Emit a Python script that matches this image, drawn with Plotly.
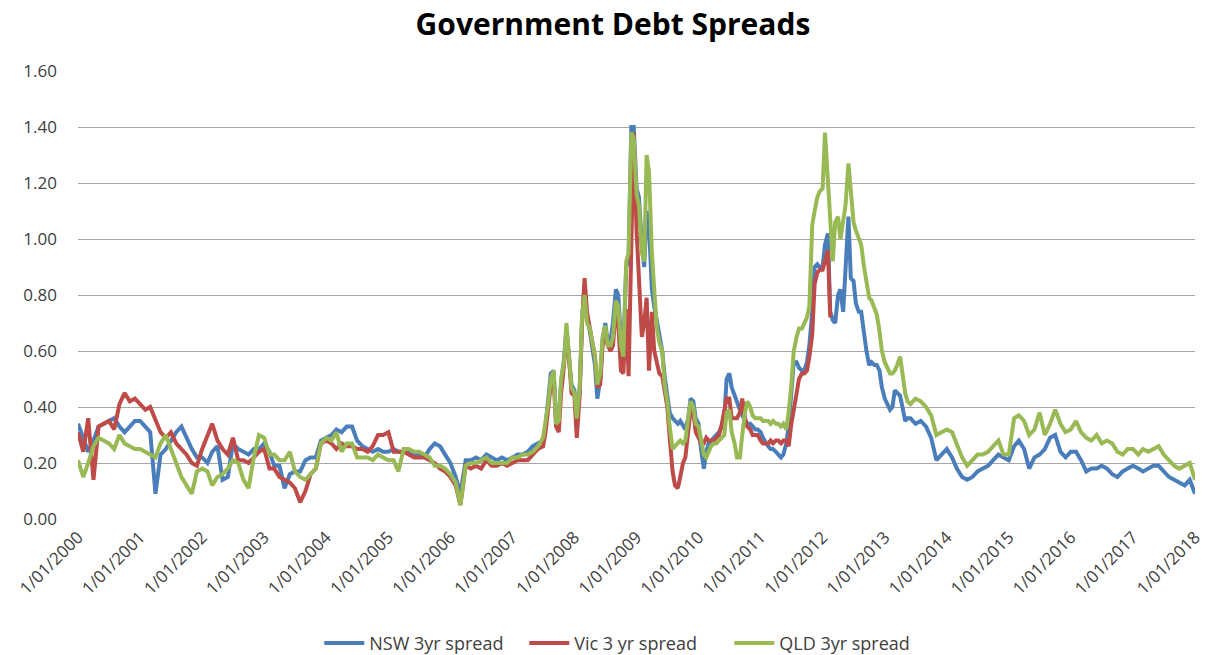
import pandas as pd
import plotly.graph_objects as go

# ---- dates: monthly 2000-01..2007-06, semi-monthly 2007-07..2013-06, monthly 2013-07..2018-01
dates_a = pd.date_range("2000-01-01", "2007-06-01", freq="MS")
dates_b = pd.date_range("2007-07-01", "2013-06-15", freq="SMS")
dates_c = pd.date_range("2013-07-01", "2018-01-01", freq="MS")

# ---- NSW 3yr spread
nsw_a = [
    0.34, 0.29, 0.24, 0.28, 0.33, 0.34, 0.35, 0.36, 0.33, 0.31, 0.33, 0.35,
    0.35, 0.33, 0.31, 0.09, 0.23, 0.25, 0.28, 0.31, 0.33, 0.29, 0.25, 0.22,
    0.22, 0.20, 0.24, 0.26, 0.14, 0.15, 0.27, 0.25, 0.24, 0.23, 0.25, 0.25,
    0.27, 0.24, 0.19, 0.19, 0.11, 0.16, 0.17, 0.17, 0.21, 0.22, 0.22, 0.28,
    0.29, 0.30, 0.32, 0.31, 0.33, 0.33, 0.28, 0.26, 0.25, 0.24, 0.25, 0.24,
    0.24, 0.25, 0.24, 0.24, 0.24, 0.23, 0.23, 0.22, 0.25, 0.27, 0.26, 0.23,
    0.20, 0.15, 0.09, 0.21, 0.21, 0.22, 0.21, 0.23, 0.22, 0.21, 0.22, 0.21,
    0.22, 0.23, 0.23, 0.24, 0.26, 0.27,
]
nsw_b = [
    0.28, 0.33, 0.43, 0.52, 0.53, 0.36, 0.35, 0.49, 0.57, 0.68, 0.57, 0.48,
    0.46, 0.35, 0.46, 0.71, 0.84, 0.72, 0.67, 0.62, 0.55, 0.43, 0.50, 0.64,
    0.70, 0.63, 0.64, 0.70, 0.82, 0.80, 0.64, 0.60, 0.90, 0.93, 1.40, 1.40,
    1.18, 1.15, 0.98, 0.90, 1.10, 1.05, 0.82, 0.76, 0.70, 0.65, 0.60, 0.51,
    0.45, 0.38, 0.36, 0.35, 0.34, 0.35, 0.33, 0.32, 0.36, 0.43, 0.42, 0.36,
    0.34, 0.25, 0.18, 0.24, 0.27, 0.28, 0.29, 0.30, 0.31, 0.33, 0.36, 0.50,
    0.52, 0.47, 0.44, 0.41, 0.39, 0.37, 0.35, 0.34, 0.34, 0.33, 0.32, 0.32,
    0.31, 0.29, 0.27, 0.26, 0.25, 0.25, 0.24, 0.23, 0.22, 0.23, 0.27, 0.33,
    0.45, 0.56, 0.56, 0.54, 0.53, 0.53, 0.56, 0.62, 0.74, 0.90, 0.91, 0.90,
    0.90, 0.98, 1.02, 0.74, 0.71, 0.70, 0.80, 0.82, 0.74, 0.90, 1.08, 0.86,
    0.85, 0.77, 0.74, 0.74, 0.65, 0.60, 0.55, 0.56, 0.55, 0.55, 0.53, 0.47,
    0.43, 0.41, 0.39, 0.40, 0.46, 0.45, 0.44, 0.40, 0.35, 0.36, 0.36, 0.35,
]
nsw_c = [
    0.34, 0.35, 0.33, 0.29, 0.21, 0.23,
    0.25, 0.22, 0.18, 0.15, 0.14, 0.15, 0.17, 0.18, 0.19, 0.21, 0.23, 0.22,
    0.21, 0.26, 0.28, 0.25, 0.18, 0.22, 0.23, 0.25, 0.29, 0.30, 0.24, 0.22,
    0.24, 0.24, 0.21, 0.17, 0.18, 0.18, 0.19, 0.18, 0.16, 0.15, 0.17, 0.18,
    0.19, 0.18, 0.17, 0.18, 0.19, 0.19, 0.17, 0.15, 0.14, 0.13, 0.12, 0.14,
    0.09,
]

# ---- Vic 3 yr spread (series stops in Feb 2012)
vic_a = [
    0.31, 0.24, 0.36, 0.14, 0.33, 0.34, 0.35, 0.32, 0.41, 0.45, 0.42, 0.43,
    0.41, 0.39, 0.40, 0.35, 0.31, 0.29, 0.31, 0.27, 0.25, 0.23, 0.20, 0.19,
    0.25, 0.30, 0.34, 0.28, 0.25, 0.23, 0.29, 0.21, 0.21, 0.20, 0.22, 0.24,
    0.25, 0.18, 0.18, 0.15, 0.14, 0.13, 0.11, 0.06, 0.10, 0.16, 0.18, 0.27,
    0.28, 0.27, 0.25, 0.27, 0.26, 0.26, 0.25, 0.25, 0.24, 0.26, 0.30, 0.30,
    0.31, 0.24, 0.24, 0.24, 0.23, 0.22, 0.22, 0.22, 0.21, 0.20, 0.18, 0.17,
    0.15, 0.12, 0.05, 0.19, 0.18, 0.19, 0.18, 0.21, 0.19, 0.19, 0.20, 0.19,
    0.20, 0.21, 0.21, 0.21, 0.23, 0.25,
]
vic_b = [
    0.26, 0.31, 0.40, 0.48, 0.50, 0.33, 0.31, 0.45, 0.55, 0.67, 0.57, 0.45,
    0.44, 0.29, 0.44, 0.70, 0.86, 0.74, 0.68, 0.63, 0.58, 0.47, 0.48, 0.62,
    0.68, 0.62, 0.60, 0.62, 0.75, 0.70, 0.53, 0.52, 0.75, 0.51, 1.00, 1.38,
    1.03, 0.82, 0.65, 0.70, 0.79, 0.53, 0.74, 0.60, 0.55, 0.52, 0.51, 0.45,
    0.40, 0.29, 0.17, 0.12, 0.11, 0.15, 0.20, 0.22, 0.30, 0.39, 0.38, 0.31,
    0.29, 0.27, 0.27, 0.29, 0.28, 0.28, 0.28, 0.29, 0.30, 0.33, 0.39, 0.43,
    0.43, 0.36, 0.36, 0.36, 0.38, 0.43, 0.36, 0.33, 0.32, 0.30, 0.30, 0.30,
    0.28, 0.27, 0.27, 0.27, 0.28, 0.27, 0.28, 0.28, 0.27, 0.28, 0.28, 0.26,
    0.34, 0.40, 0.45, 0.50, 0.52, 0.52, 0.53, 0.58, 0.66, 0.84, 0.88, 0.89,
    0.89, 0.92, 0.96, 0.72,
]

# ---- QLD 3yr spread
qld_a = [
    0.21, 0.15, 0.20, 0.26, 0.29, 0.28, 0.27, 0.25, 0.30, 0.27, 0.26, 0.25,
    0.25, 0.24, 0.23, 0.22, 0.27, 0.30, 0.25, 0.20, 0.15, 0.12, 0.09, 0.17,
    0.18, 0.17, 0.12, 0.15, 0.16, 0.18, 0.21, 0.20, 0.14, 0.11, 0.22, 0.30,
    0.29, 0.23, 0.23, 0.21, 0.21, 0.24, 0.17, 0.15, 0.14, 0.16, 0.18, 0.27,
    0.29, 0.28, 0.31, 0.24, 0.27, 0.27, 0.22, 0.22, 0.22, 0.21, 0.23, 0.22,
    0.21, 0.21, 0.17, 0.25, 0.25, 0.24, 0.24, 0.23, 0.22, 0.19, 0.19, 0.18,
    0.16, 0.13, 0.05, 0.19, 0.20, 0.20, 0.21, 0.22, 0.20, 0.20, 0.20, 0.20,
    0.22, 0.22, 0.23, 0.23, 0.24, 0.26,
]
qld_b = [
    0.29, 0.34, 0.42, 0.50, 0.53, 0.34, 0.35, 0.50, 0.56, 0.70, 0.56, 0.47,
    0.45, 0.36, 0.47, 0.72, 0.80, 0.70, 0.68, 0.63, 0.58, 0.48, 0.52, 0.65,
    0.69, 0.62, 0.62, 0.65, 0.78, 0.76, 0.62, 0.58, 0.92, 0.95, 1.38, 1.36,
    1.16, 1.12, 0.95, 0.92, 1.30, 1.24, 0.95, 0.82, 0.68, 0.63, 0.60, 0.48,
    0.42, 0.33, 0.25, 0.26, 0.27, 0.28, 0.27, 0.28, 0.36, 0.42, 0.40, 0.34,
    0.33, 0.28, 0.23, 0.22, 0.24, 0.26, 0.27, 0.27, 0.28, 0.29, 0.30, 0.38,
    0.39, 0.31, 0.27, 0.22, 0.22, 0.30, 0.38, 0.42, 0.40, 0.37, 0.36, 0.36,
    0.36, 0.35, 0.35, 0.35, 0.34, 0.35, 0.34, 0.34, 0.33, 0.34, 0.32, 0.38,
    0.48, 0.60, 0.65, 0.68, 0.68, 0.70, 0.72, 0.76, 1.05, 1.10, 1.15, 1.17,
    1.18, 1.38, 1.22, 1.04, 0.92, 1.06, 1.08, 1.00, 1.06, 1.12, 1.27, 1.15,
    1.06, 1.03, 1.00, 0.98, 0.90, 0.84, 0.79, 0.78, 0.75, 0.73, 0.67, 0.60,
    0.56, 0.54, 0.52, 0.52, 0.53, 0.55, 0.58, 0.52, 0.45, 0.42, 0.41, 0.42,
]
qld_c = [
    0.43, 0.42, 0.40, 0.37, 0.30, 0.31,
    0.32, 0.31, 0.27, 0.22, 0.19, 0.21, 0.23, 0.23, 0.24, 0.26, 0.28, 0.23,
    0.23, 0.36, 0.37, 0.35, 0.30, 0.32, 0.38, 0.30, 0.34, 0.39, 0.34, 0.31,
    0.32, 0.35, 0.31, 0.29, 0.28, 0.30, 0.27, 0.28, 0.27, 0.24, 0.23, 0.25,
    0.25, 0.23, 0.25, 0.24, 0.25, 0.26, 0.23, 0.21, 0.19, 0.18, 0.19, 0.20,
    0.14,
]

series_names = ["NSW 3yr spread", "Vic 3 yr spread", "QLD 3yr spread"]
colors = ["#4A7EBB", "#BE4B48", "#98B954"]

all_dates = list(dates_a) + list(dates_b) + list(dates_c)
vic_dates = list(dates_a) + list(dates_b[:len(vic_b)])

traces = [
    (all_dates, nsw_a + nsw_b + nsw_c),
    (vic_dates, vic_a + vic_b),
    (all_dates, qld_a + qld_b + qld_c),
]

fig = go.Figure()
for (x, y), name, col in zip(traces, series_names, colors):
    fig.add_trace(go.Scatter(x=x, y=y, mode="lines", name=name,
                             line=dict(color=col, width=4)))

fig.update_layout(
    width=1209, height=655,
    margin=dict(l=78, r=14, t=71, b=136),
    paper_bgcolor="white", plot_bgcolor="white",
    font=dict(family="Open Sans, Calibri, sans-serif", size=17, color="#404040"),
    title=dict(text="<b>Government Debt Spreads</b>", x=0.507, xanchor="center",
               y=0.963, yanchor="middle",
               font=dict(size=30, color="#000000", family="Open Sans, sans-serif")),
    showlegend=True,
    legend=dict(orientation="h", x=0.216, xanchor="left",
                yref="container", y=0.018, yanchor="middle",
                font=dict(size=18, color="#404040"), itemwidth=40,
                entrywidth=150, entrywidthmode="pixels",
                traceorder="normal"),
)
fig.update_xaxes(
    type="date", range=["2000-01-01", "2018-01-01"],
    tick0="2000-01-01", dtick="M12", tickformat="%-d/%m/%Y",
    tickangle=-45, showgrid=False, showline=False, zeroline=False,
    tickfont=dict(size=17, color="#404040"), ticks="", automargin=False,
    ticklabelstandoff=4,
)
fig.update_yaxes(
    range=[0, 1.6], dtick=0.2, tickformat=".2f",
    showgrid=True, gridcolor="#A6A6A6", gridwidth=1,
    zeroline=False, showline=False, ticks="", ticklabelstandoff=20,
    tickfont=dict(size=17, color="#404040"), automargin=False,
)

fig.write_html("out.html")
